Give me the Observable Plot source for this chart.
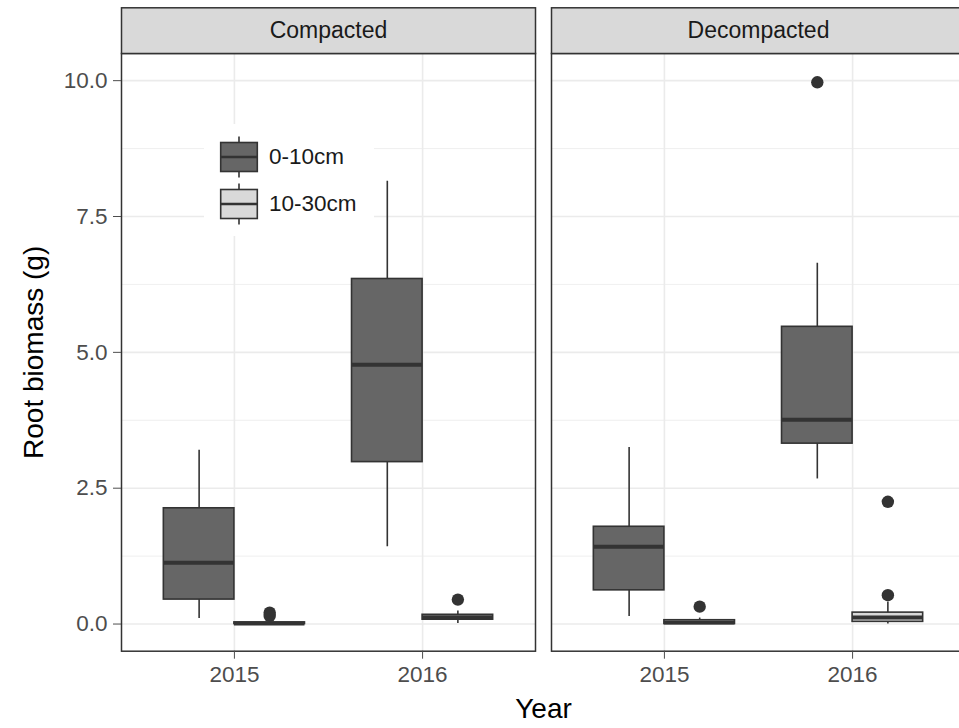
<!DOCTYPE html>
<html>
<head>
<meta charset="utf-8">
<script src="https://cdn.jsdelivr.net/npm/d3@7"></script>
<script src="https://cdn.jsdelivr.net/npm/@observablehq/plot@0.6"></script>
<style>
  html, body { margin: 0; padding: 0; background: #fff; overflow: hidden; }
  #chart { width: 959px; height: 728px; overflow: hidden; position: relative; }
</style>
</head>
<body>
<div id="chart"></div>
<script>
// Soil treatments (facets), sampling years and depths
const panels = ["Compacted", "Decompacted"];
const years = ["2015", "2016"];
const depths = ["0-10cm", "10-30cm"];
const depthFill = ["#666666", "#D9D9D9"];

// Box-plot summaries, one entry per box (panel → year → depth)
const boxPanel = ["Compacted", "Compacted", "Compacted", "Compacted",
                  "Decompacted", "Decompacted", "Decompacted", "Decompacted"];
const boxYear  = ["2015", "2015", "2016", "2016", "2015", "2015", "2016", "2016"];
const boxDepth = ["0-10cm", "10-30cm", "0-10cm", "10-30cm", "0-10cm", "10-30cm", "0-10cm", "10-30cm"];
const whiskerLow  = [0.10, 0.00, 1.42, 0.01, 0.14, 0.00, 2.67, 0.00];
const quartile1   = [0.45, 0.00, 2.98, 0.08, 0.62, 0.00, 3.32, 0.04];
const median      = [1.13, 0.01, 4.77, 0.125, 1.42, 0.03, 3.76, 0.12];
const quartile3   = [2.13, 0.03, 6.35, 0.17, 1.79, 0.07, 5.47, 0.21];
const whiskerHigh = [3.20, 0.06, 8.15, 0.24, 3.25, 0.11, 6.64, 0.40];

// Outlying observations
const outlierPanel = ["Compacted", "Compacted", "Compacted", "Decompacted", "Decompacted", "Decompacted", "Decompacted"];
const outlierYear  = ["2015", "2015", "2016", "2015", "2016", "2016", "2016"];
const outlierDepth = ["10-30cm", "10-30cm", "10-30cm", "10-30cm", "0-10cm", "10-30cm", "10-30cm"];
const outlierValue = [0.21, 0.15, 0.45, 0.32, 9.97, 2.25, 0.53];

// Axis ticks
const yTicks = [0, 2.5, 5, 7.5, 10];
const yMinorTicks = [1.25, 3.75, 6.25, 8.75];

// Dodged layout: each year occupies 0.75 units, split between the two depths
const dodge = 0.375;
const half = dodge / 2;
const slot = (year, depth) => years.indexOf(year) + 1 + (depths.indexOf(depth) - 0.5) * dodge;

const boxes = boxPanel.map((p, i) => ({
  panel: p, year: boxYear[i], depth: boxDepth[i],
  lo: whiskerLow[i], q1: quartile1[i], med: median[i], q3: quartile3[i], hi: whiskerHigh[i]
}));
const outliers = outlierPanel.map((p, i) => ({
  panel: p, year: outlierYear[i], depth: outlierDepth[i], value: outlierValue[i]
}));

const ink = "#333333";
const gridColor = "#EBEBEB";
const marginTop = 53, marginBottom = 77.3;
const height = 728;
const panelHeight = height - marginTop - marginBottom;
const stripHeight = 45.7;

const chart = Plot.plot({
  width: 980,
  height,
  marginLeft: 121,
  marginRight: 14.7,
  marginTop,
  marginBottom,
  style: {
    fontFamily: "'Liberation Sans', Arial, Helvetica, sans-serif",
    fontSize: "22.5px",
    background: "white",
    maxWidth: "none",
    overflow: "visible"
  },
  fx: { domain: panels, paddingInner: 0.0372, paddingOuter: 0, axis: null, label: null },
  x: { domain: [0.4, 2.6], axis: null },
  y: { domain: [-0.5, 10.5], axis: null },
  color: { domain: depths, range: depthFill },
  marks: [
    // panel grid
    Plot.ruleY(yMinorTicks, { y: d => d, stroke: gridColor, strokeWidth: 0.8 }),
    Plot.ruleY(yTicks, { y: d => d, stroke: gridColor, strokeWidth: 1.6 }),
    Plot.ruleX(years, { x: (d, i) => i + 1, stroke: gridColor, strokeWidth: 1.6 }),
    // whiskers
    Plot.ruleX(boxes, { fx: "panel", x: d => slot(d.year, d.depth), y1: "lo", y2: "hi", stroke: ink, strokeWidth: 1.6 }),
    // boxes
    Plot.rect(boxes, {
      fx: "panel",
      x1: d => slot(d.year, d.depth) - half,
      x2: d => slot(d.year, d.depth) + half,
      y1: "q1", y2: "q3",
      fill: "depth", stroke: ink, strokeWidth: 1.6
    }),
    // medians
    Plot.ruleY(boxes, {
      fx: "panel",
      x1: d => slot(d.year, d.depth) - half,
      x2: d => slot(d.year, d.depth) + half,
      y: "med", stroke: ink, strokeWidth: 4
    }),
    // outliers
    Plot.dot(outliers, { fx: "panel", x: d => slot(d.year, d.depth), y: "value", r: 6.2, fill: ink, stroke: null }),
    // panel border
    Plot.frame({ stroke: ink, strokeWidth: 1.5 }),
    // strip above each panel
    Plot.frame({ fill: "#D9D9D9", stroke: ink, strokeWidth: 1.5, insetTop: -stripHeight, insetBottom: panelHeight }),
    Plot.text(panels, { fx: d => d, text: d => d, frameAnchor: "top", lineAnchor: "middle", dy: -stripHeight / 2, fill: "#1A1A1A", fontSize: 23 }),
    // axes
    Plot.axisY(yTicks, { tickFormat: d3.format(".1f"), tickSize: 8, tickPadding: 6, color: "#4D4D4D", label: null }),
    Plot.axisX(years.map((d, i) => i + 1), { tickFormat: i => years[i - 1], tickSize: 8, tickPadding: 7, color: "#4D4D4D", label: null }),
    // axis titles
    Plot.text(["Root biomass (g)"], { facet: "super", frameAnchor: "left", textAnchor: "middle", lineAnchor: "middle", rotate: -90, dx: -87, fontSize: 28, fill: "#000" }),
    Plot.text(["Year"], { facet: "super", frameAnchor: "bottom", lineAnchor: "middle", dy: 58.3, fontSize: 28, fill: "#000" })
  ]
});

// Legend placed inside the first panel, drawn with boxplot key glyphs
const svg = d3.select(chart);
const legend = svg.append("g").attr("aria-label", "legend");
legend.append("rect")
  .attr("x", 204).attr("y", 124).attr("width", 170).attr("height", 112)
  .attr("fill", "white");
depths.forEach((depth, i) => {
  const cy = 157 + i * 47;
  const cx = 239;
  legend.append("line")
    .attr("x1", cx).attr("x2", cx).attr("y1", cy - 20.5).attr("y2", cy + 20.5)
    .attr("stroke", ink).attr("stroke-width", 1.6);
  legend.append("rect")
    .attr("x", cx - 18.3).attr("y", cy - 14.5).attr("width", 36.6).attr("height", 29)
    .attr("fill", depthFill[i]).attr("stroke", ink).attr("stroke-width", 1.6);
  legend.append("line")
    .attr("x1", cx - 18.3).attr("x2", cx + 18.3).attr("y1", cy).attr("y2", cy)
    .attr("stroke", ink).attr("stroke-width", 2.5);
  legend.append("text")
    .attr("x", 269).attr("y", cy).attr("dy", "0.32em")
    .attr("text-anchor", "start")
    .attr("font-size", 22.5)
    .attr("fill", "#1A1A1A")
    .text(depth);
});

document.getElementById("chart").appendChild(chart);
</script>
</body>
</html>
